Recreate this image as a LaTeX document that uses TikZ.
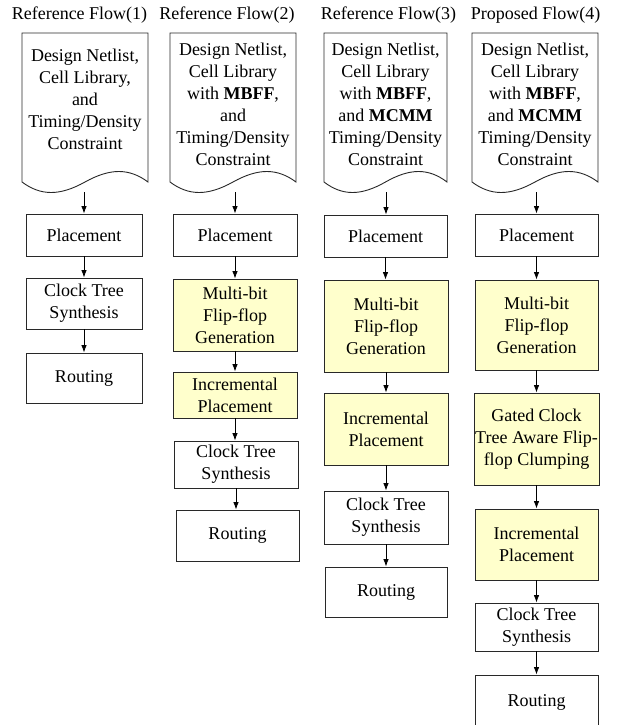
\documentclass[tikz,border=0pt]{standalone}
\usepackage{fontspec}
\setmainfont{Liberation Serif}
\usetikzlibrary{arrows.meta,calc}

\definecolor{newfill}{RGB}{255,255,204}
\definecolor{edge}{RGB}{40,40,40}

% document outline: flat top, wavy bottom edge
\newcommand\docshape[4]{%
  \draw[docline] (#1,#2) -- (#3,#2) -- (#3,#4)
    .. controls ({#1+0.85*(#3-#1)},{#4-14}) and ({#1+0.70*(#3-#1)},{#4-14}) .. ({#1+0.5*(#3-#1)},#4)
    .. controls ({#1+0.30*(#3-#1)},{#4+14}) and ({#1+0.15*(#3-#1)},{#4+14}) .. (#1,#4) -- cycle;}

\tikzset{
  every node/.style={font=\fontsize{18pt}{22pt}\selectfont, align=center, inner sep=0pt},
  title/.style={anchor=base},
  stepbox/.style={draw=edge, line width=0.9pt, fill=white},
  newbox/.style={stepbox, fill=newfill},
  docline/.style={draw=edge, line width=0.9pt},
  arr/.style={-{Latex[length=7.5pt,width=5.5pt]}, line width=0.8pt},
}

\begin{document}
\begin{tikzpicture}[x=1pt,y=-1pt]
\useasboundingbox (0,0) rectangle (624,725);

% column titles
\node[title] (t1) at (79.5,20) {Reference Flow(1)};
\node[title] (t2) at (227,20) {Reference Flow(2)};
\node[title] (t3) at (388.5,20) {Reference Flow(3)};
\node[title] (t4) at (535.5,20) {Proposed Flow(4)};

% input documents
\docshape{22}{33}{148}{182}
\docshape{170}{33}{296}{182}
\docshape{324}{33}{447}{182}
\docshape{472}{33}{598}{182}
\node (d1) at (85,99.8) {Design Netlist,\\Cell Library,\\and\\Timing/Density\\Constraint};
\node (d2) at (233,104.3) {Design Netlist,\\Cell Library\\with \textbf{MBFF},\\and\\Timing/Density\\Constraint};
\node (d3) at (385.5,104.3) {Design Netlist,\\Cell Library\\with \textbf{MBFF},\\and \textbf{MCMM}\\Timing/Density\\Constraint};
\node (d4) at (535,104.3) {Design Netlist,\\Cell Library\\with \textbf{MBFF},\\and \textbf{MCMM}\\Timing/Density\\Constraint};
\coordinate (o1) at (84,192);
\coordinate (o2) at (235,192);
\coordinate (o3) at (386,192);
\coordinate (o4) at (536.5,192);

% flow (1)
\node[stepbox, minimum width=116pt, minimum height=42pt] (p1) at (84,235) {Placement};
\node[stepbox, minimum width=116pt, minimum height=51pt] (c1) at (84,303.5) {Clock Tree\\Synthesis};
\node[stepbox, minimum width=116pt, minimum height=50pt] (r1) at (84,378) {Routing};

% flow (2)
\node[stepbox, minimum width=124pt, minimum height=42pt] (p2) at (235,235) {Placement};
\node[newbox, minimum width=124pt, minimum height=72pt] (m2) at (235,315) {Multi-bit\\Flip-flop\\Generation};
\node[newbox, minimum width=124pt, minimum height=46pt] (i2) at (235,395) {Incremental\\Placement};
\node[stepbox, minimum width=124pt, minimum height=47pt] (c2) at (236,464.5) {Clock Tree\\Synthesis};
\node[stepbox, minimum width=123pt, minimum height=51pt] (r2) at (237.5,535.5) {Routing};

% flow (3)
\node[stepbox, minimum width=123pt, minimum height=42pt] (p3) at (385.5,236) {Placement};
\node[newbox, minimum width=124pt, minimum height=92pt] (m3) at (386,326) {Multi-bit\\Flip-flop\\Generation};
\node[newbox, minimum width=124pt, minimum height=72pt] (i3) at (386,429) {Incremental\\Placement};
\node[stepbox, minimum width=124pt, minimum height=53pt] (c3) at (386,517.5) {Clock Tree\\Synthesis};
\node[stepbox, minimum width=122pt, minimum height=50pt] (r3) at (386,592) {Routing};

% flow (4)
\node[stepbox, minimum width=123pt, minimum height=42pt] (p4) at (536.5,235) {Placement};
\node[newbox, minimum width=123pt, minimum height=90pt] (m4) at (536.5,325) {Multi-bit\\Flip-flop\\Generation};
\node[newbox, minimum width=125pt, minimum height=92pt] (g4) at (536.5,439) {Gated Clock\\Tree Aware Flip-\\flop Clumping};
\node[newbox, minimum width=123pt, minimum height=71pt] (i4) at (536.5,544.5) {Incremental\\Placement};
\node[stepbox, minimum width=123pt, minimum height=48pt] (c4) at (536.5,627) {Clock Tree\\Synthesis};
\node[stepbox, minimum width=123pt, minimum height=54pt] (r4) at (536.5,702) {Routing};

% connectors
\draw[arr] (o1) -- (o1 |- p1.north);
\draw[arr] (p1.south) -- (p1.south |- c1.north);
\draw[arr] (c1.south) -- (c1.south |- r1.north);

\draw[arr] (o2) -- (o2 |- p2.north);
\draw[arr] (p2.south) -- (p2.south |- m2.north);
\draw[arr] (m2.south) -- (m2.south |- i2.north);
\draw[arr] (i2.south) -- (i2.south |- c2.north);
\draw[arr] (c2.south) -- (c2.south |- r2.north);

\draw[arr] (o3) -- (o3 |- p3.north);
\draw[arr] (p3.south) -- (p3.south |- m3.north);
\draw[arr] (m3.south) -- (m3.south |- i3.north);
\draw[arr] (i3.south) -- (i3.south |- c3.north);
\draw[arr] (c3.south) -- (c3.south |- r3.north);

\draw[arr] (o4) -- (o4 |- p4.north);
\draw[arr] (p4.south) -- (p4.south |- m4.north);
\draw[arr] (m4.south) -- (m4.south |- g4.north);
\draw[arr] (g4.south) -- (g4.south |- i4.north);
\draw[arr] (i4.south) -- (i4.south |- c4.north);
\draw[arr] (c4.south) -- (c4.south |- r4.north);
\end{tikzpicture}
\end{document}
